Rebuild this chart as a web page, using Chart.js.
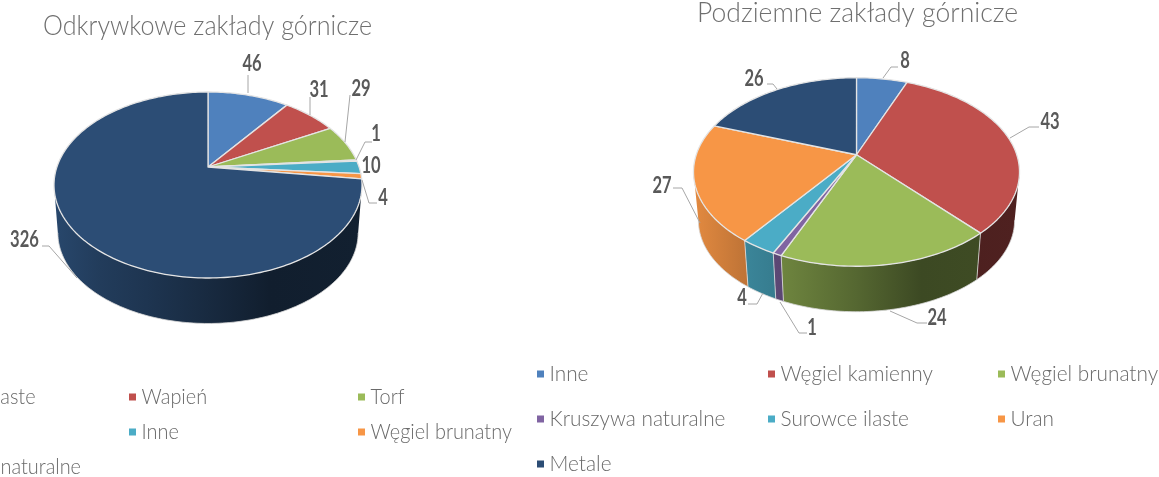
<!DOCTYPE html>
<html lang="pl"><head><meta charset="utf-8">
<style>
html,body{margin:0;padding:0;background:#fff;width:1159px;height:477px;overflow:hidden}
canvas{position:absolute;top:0}
#a{left:-120px}#b{left:520px}
</style>
<script src="https://cdn.jsdelivr.net/npm/chart.js@4"></script>
</head><body>
<canvas id="a" width="640" height="477"></canvas>
<canvas id="b" width="639" height="477"></canvas>
<script>
const palette = ['#4f81bd','#c0504d','#9bbb59','#8064a2','#4bacc6','#f79646','#2c4d75'];
const leftCategories = ['Surowce ilaste','Wapień','Torf','Metale','Inne','Węgiel brunatny','Kruszywa naturalne'];
const leftValues = [46,31,29,1,10,4,326];
const rightCategories = ['Inne','Węgiel kamienny','Węgiel brunatny','Kruszywa naturalne','Surowce ilaste','Uran','Metale'];
const rightValues = [8,43,24,1,4,27,26];
const leftTitle = 'Odkrywkowe zakłady górnicze';
const rightTitle = 'Podziemne zakłady górnicze';

const FONT = 'Lato,sans-serif';
const wallStops = [[0,.92],[.15,.78],[.3,.69],[.5,.55],[.7,.39],[1,.41]];

function shade(hex,f){
  const n=parseInt(hex.slice(1),16);
  return `rgb(${Math.round((n>>16&255)*f)},${Math.round((n>>8&255)*f)},${Math.round((n&255)*f)})`;
}
function squeezed(ctx,text,x,y,k,align){
  ctx.save();ctx.translate(x,y);ctx.scale(k,1);
  ctx.textAlign=align||'left';ctx.fillText(text,0,0);ctx.restore();
}
const pie3d={
  id:'pie3d',
  beforeDatasetsDraw(chart,args,o){
    const ctx=chart.ctx, arcs=chart.getDatasetMeta(0).data, colors=chart.data.datasets[0].backgroundColor;
    const e0=arcs[0], r=e0.outerRadius, cx=e0.x, cy=e0.y;
    const ry=r*o.flatten, p=o.persp, a=r*Math.sqrt(1-p*p), b=ry*(1-p*p), ay=cy-ry*p;
    const top=t=>{const d=1-p*Math.sin(t);return [cx+a*Math.cos(t)/d, ay+b*Math.sin(t)/d];};
    const bot=t=>{const q=top(t);return [cx+o.shrink*(q[0]-cx), cy+o.drop+o.shrink*(q[1]-cy)];};
    const samples=(s,e)=>{const n=Math.max(2,Math.ceil((e-s)/0.02)),out=[];for(let i=0;i<=n;i++)out.push(s+(e-s)*i/n);return out;};
    const frontA=Math.asin(p), frontB=Math.PI-frontA;
    ctx.save();
    arcs.forEach((el,i)=>{
      const s=Math.max(el.startAngle,frontA), e=Math.min(el.endAngle,frontB);
      if(e<=s)return;
      const ts=samples(s,e);
      const g=ctx.createLinearGradient(cx-r,0,cx+r,0);
      wallStops.forEach(w=>g.addColorStop(w[0],shade(colors[i],w[1])));
      ctx.beginPath();
      ts.forEach((t,k)=>{const q=top(t);k?ctx.lineTo(q[0],q[1]):ctx.moveTo(q[0],q[1]);});
      ts.slice().reverse().forEach(t=>{const q=bot(t);ctx.lineTo(q[0],q[1]);});
      ctx.closePath();ctx.fillStyle=g;ctx.fill();
      ctx.beginPath();
      ts.forEach((t,k)=>{const q=bot(t);k?ctx.lineTo(q[0],q[1]):ctx.moveTo(q[0],q[1]);});
      ctx.strokeStyle='rgba(215,215,215,.8)';ctx.lineWidth=1;ctx.stroke();
    });
    arcs.forEach(el=>{
      const t=el.endAngle;
      if(t>frontA&&t<frontB){const q=top(t),w=bot(t);
        ctx.beginPath();ctx.moveTo(q[0],q[1]);ctx.lineTo(w[0],w[1]);
        ctx.strokeStyle='rgba(225,225,225,.75)';ctx.lineWidth=1;ctx.stroke();}
    });
    arcs.forEach((el,i)=>{
      ctx.beginPath();ctx.moveTo(cx,ay);
      samples(el.startAngle,el.endAngle).forEach(t=>{const q=top(t);ctx.lineTo(q[0],q[1]);});
      ctx.closePath();ctx.fillStyle=colors[i];ctx.fill();
      ctx.strokeStyle='#e4e4e4';ctx.lineWidth=1.3;ctx.lineJoin='round';ctx.stroke();
    });
    ctx.restore();
    return false;
  },
  afterDraw(chart,args,o){
    const ctx=chart.ctx, colors=chart.data.datasets[0].backgroundColor;
    const values=chart.data.datasets[0].data, labels=chart.data.labels;
    ctx.save();ctx.translate(-o.pageX,0);
    ctx.textBaseline='alphabetic';
    ctx.fillStyle='#6f6f6f';ctx.font='300 28px '+FONT;
    const tw=ctx.measureText(o.title).width;
    squeezed(ctx,o.title,o.titleX,o.titleY,o.titleW/tw,'center');
    ctx.strokeStyle='#a6a6a6';ctx.lineWidth=1;
    o.leaders.forEach(l=>{ if(!l)return;
      ctx.beginPath();l.forEach((q,k)=>k?ctx.lineTo(q[0],q[1]):ctx.moveTo(q[0],q[1]));ctx.stroke();});
    ctx.fillStyle='#595959';ctx.font='700 23px '+FONT;
    values.forEach((v,i)=>squeezed(ctx,String(v),o.labelPos[i][0],o.labelPos[i][1]+8,.72,'center'));
    ctx.font='300 22px '+FONT;
    labels.forEach((t,i)=>{
      const c=i%3,row=Math.floor(i/3),mx=o.legendX[c],my=o.legendY+row*o.legendDY;
      ctx.fillStyle=colors[i];ctx.fillRect(mx,my-3.5,7,7);
      ctx.fillStyle='#6a6a6a';
      squeezed(ctx,t,mx+12.5,my+6.5,o.legendScale,'left');
    });
    ctx.restore();
  }
};
Chart.register(pie3d);

function build(id,categories,values,padding,extra){
  return new Chart(document.getElementById(id),{
    type:'pie',
    data:{labels:categories,datasets:[{data:values,backgroundColor:palette,borderWidth:0}]},
    options:{responsive:false,animation:false,layout:{padding},
      plugins:{legend:{display:false},tooltip:{enabled:false},title:{display:false},pie3d:extra}}
  });
}
build('a',leftCategories,leftValues,{left:16,right:0,top:31,bottom:138},{
  pageX:-120,flatten:93/154,persp:.1935,shrink:.975,drop:47.8,
  title:leftTitle,titleX:207.5,titleY:35,titleW:329,
  labelPos:[[252,63],[319,89],[361,88],[376,133],[371,165],[383,197],[24.5,239]],
  leaders:[[[248,93],[248,75]],[[310,115],[310,97]],[[345,142],[350,95]],
    [[356,160],[365,142],[372,142]],null,[[362,180],[369,203],[377,203]],[[42,246],[49,246],[77,278]]],
  legendX:[-100,129,358],legendY:397,legendDY:35,legendScale:.905
});
build('b',rightCategories,rightValues,{left:34,right:0,top:9,bottom:142},{
  pageX:520,flatten:94.25/163,persp:.183,shrink:.97,drop:48.3,
  title:rightTitle,titleX:857.5,titleY:22,titleW:321,
  labelPos:[[905,60],[1050,121],[937,317],[812,327],[742,297],[662,185],[754,78]],
  leaders:[[[883,78],[891,67],[898,67]],[[1010,138],[1029,127],[1039,127]],[[890,311],[917,323],[927,323]],
    [[780,302],[799,333],[807,333]],[[763,293],[757,304],[748,304]],[[700,223],[682,188],[673,188]],[[777,89],[773,84],[767,84]]],
  legendX:[537,768,998],legendY:374,legendDY:45,legendScale:.945
});
</script>
</body></html>
